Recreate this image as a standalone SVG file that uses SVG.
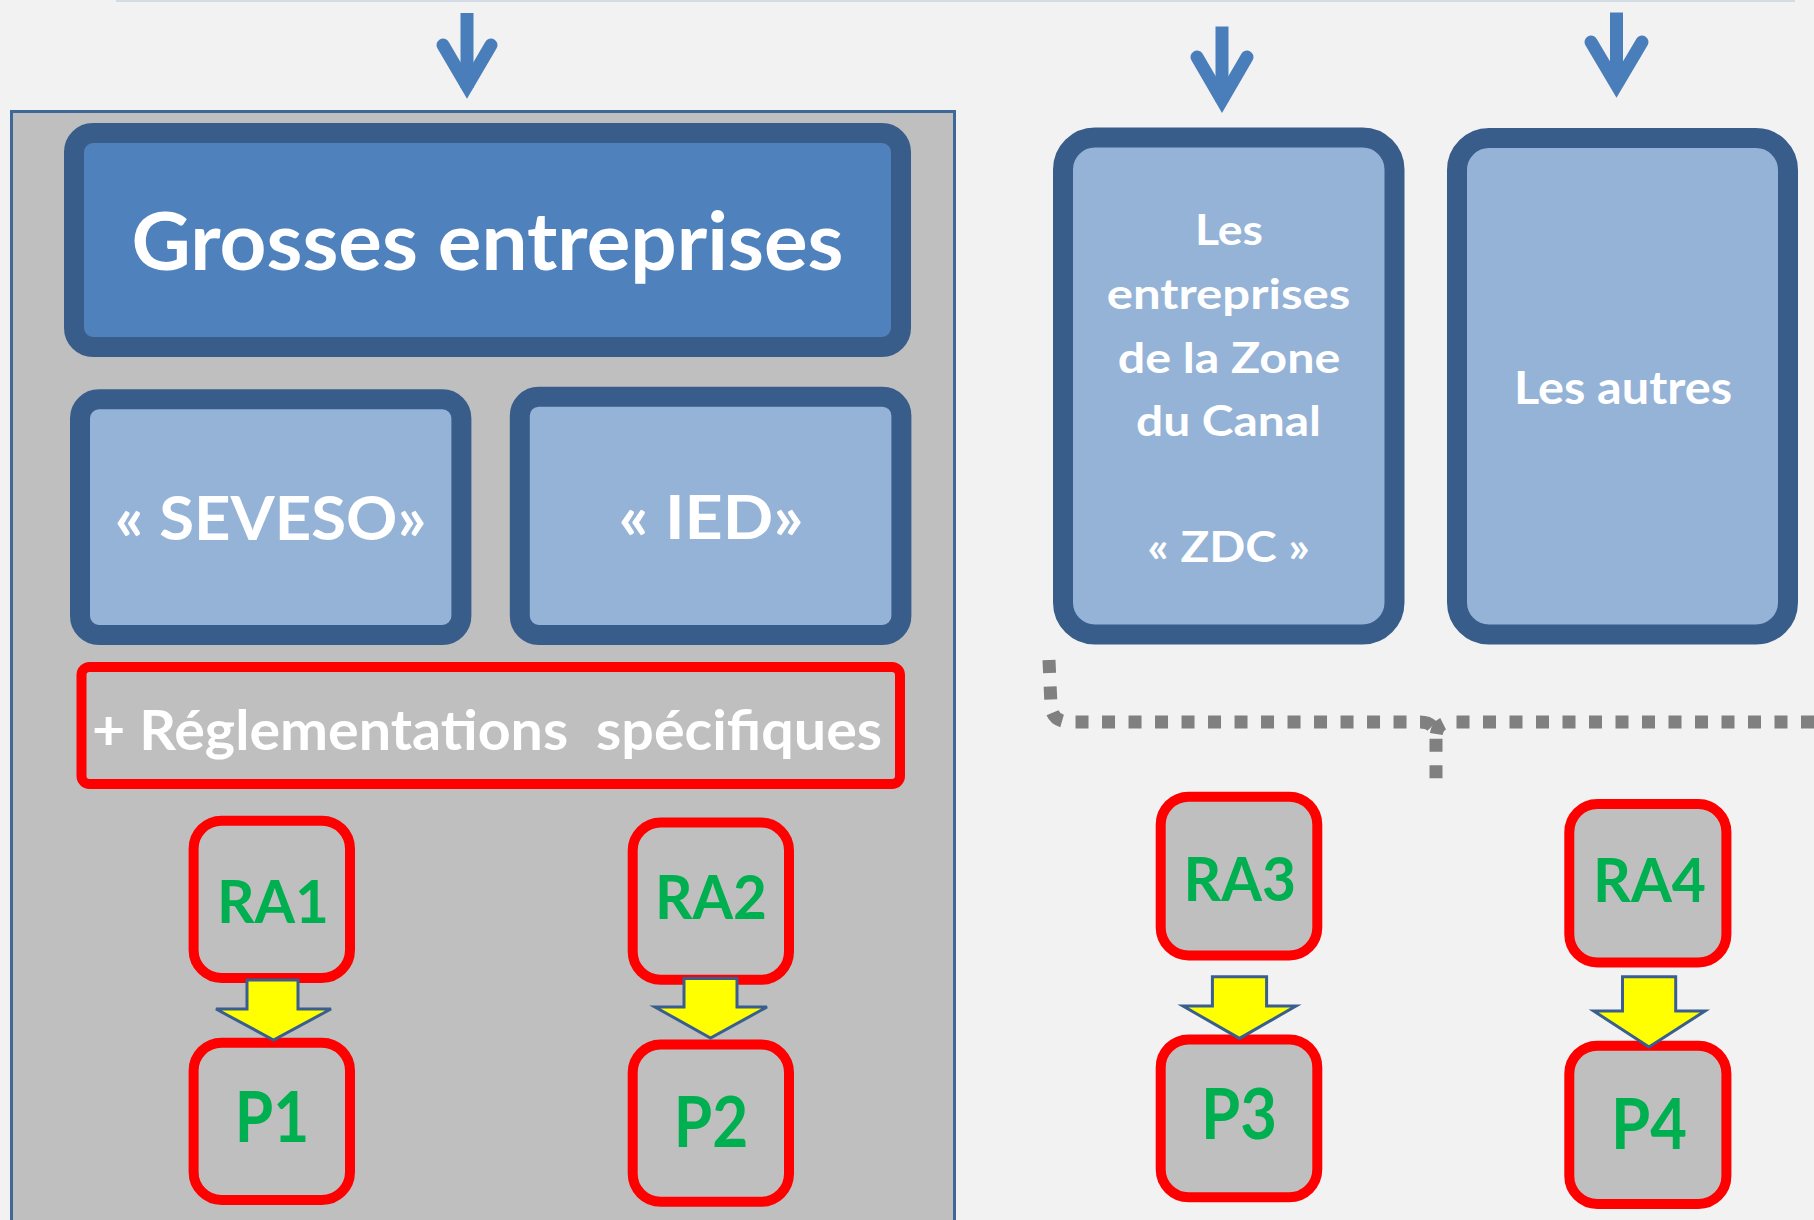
<svg xmlns="http://www.w3.org/2000/svg" width="1814" height="1220" viewBox="0 0 1814 1220">
<style>
.t{font-family:"Lato","Open Sans","Liberation Sans",sans-serif;font-weight:700;}
.w{fill:#ffffff;}
.g{fill:#00b050;}
.bb{stroke:#385d8a;stroke-width:20;}
.dk{fill:#4f81bd;}
.lt{fill:#95b3d7;}
.rb{fill:#bfbfbf;stroke:#ff0000;stroke-width:10;}
.ya{fill:#ffff00;stroke:#3a5f8f;stroke-width:3;stroke-linejoin:miter;}
.ba{fill:none;stroke:#4a7ebb;stroke-width:13;}
.dot{fill:none;stroke:#808080;stroke-width:13;stroke-dasharray:13 13.5;}
</style>
<rect x="0" y="0" width="1814" height="1220" fill="#f2f2f2"/>
<line x1="116" y1="1" x2="1795" y2="1" stroke="#d3dbe5" stroke-width="2"/>
<g id="panel">
<rect x="11.5" y="111.5" width="943" height="1120" fill="#bfbfbf" stroke="#3f6797" stroke-width="3"/>
</g>
<g id="grosses">
<rect class="bb dk" x="74" y="133" width="827" height="214" rx="19"/>
<text class="t w" x="487.5" y="270" font-size="80" text-anchor="middle" textLength="712" lengthAdjust="spacingAndGlyphs">Grosses entreprises</text>
</g>
<g id="seveso">
<rect class="bb lt" x="80" y="399.3" width="381.4" height="235.7" rx="19"/>
<text class="t w" x="270.6" y="540" font-size="61" text-anchor="middle" textLength="311.5" lengthAdjust="spacingAndGlyphs">« SEVESO»</text>
</g>
<g id="ied">
<rect class="bb lt" x="519.8" y="396.7" width="381.6" height="238.3" rx="19"/>
<text class="t w" x="711" y="539.3" font-size="61" text-anchor="middle" textLength="185" lengthAdjust="spacingAndGlyphs">« IED»</text>
</g>
<g id="reglementations">
<rect class="rb" x="81.5" y="667" width="818.5" height="117" rx="8"/>
<text class="t w" x="92" y="750" font-size="56" style="white-space:pre" textLength="790" lengthAdjust="spacingAndGlyphs">+ Réglementations  spécifiques</text>
</g>
<g id="zdc">
<rect class="bb lt" x="1063" y="137.5" width="331.5" height="497" rx="32" stroke-width="21"/>
<text class="t w" x="1229" y="245" font-size="42.5" text-anchor="middle" textLength="68" lengthAdjust="spacingAndGlyphs">Les</text>
<text class="t w" x="1228.5" y="309" font-size="42.5" text-anchor="middle" textLength="243.5" lengthAdjust="spacingAndGlyphs">entreprises</text>
<text class="t w" x="1229" y="372.5" font-size="42.5" text-anchor="middle" textLength="222.5" lengthAdjust="spacingAndGlyphs">de la Zone</text>
<text class="t w" x="1228.5" y="435.6" font-size="42.5" text-anchor="middle" textLength="185" lengthAdjust="spacingAndGlyphs">du Canal</text>
<text class="t w" x="1228.5" y="562" font-size="42.5" text-anchor="middle" textLength="162.5" lengthAdjust="spacingAndGlyphs">« ZDC »</text>
</g>
<g id="autres">
<rect class="bb lt" x="1457" y="138" width="331" height="496.5" rx="32" stroke-width="21"/>
<text class="t w" x="1623" y="404" font-size="46" text-anchor="middle" textLength="218" lengthAdjust="spacingAndGlyphs">Les autres</text>
</g>
<g id="ra1">
<rect class="rb" x="193.6" y="820.7" width="156.4" height="157.3" rx="28"/>
<text class="t g" x="273" y="923" font-size="60" text-anchor="middle" textLength="112" lengthAdjust="spacingAndGlyphs">RA1</text>
</g>
<g id="p1">
<rect class="rb" x="193.6" y="1042.7" width="156.4" height="157.3" rx="28"/>
<text class="t g" x="272" y="1142" font-size="70" text-anchor="middle" textLength="74.5" lengthAdjust="spacingAndGlyphs">P1</text>
</g>
<g id="ra2">
<rect class="rb" x="632.7" y="822.6" width="156.3" height="157.2" rx="28"/>
<text class="t g" x="711" y="919" font-size="61" text-anchor="middle" textLength="112" lengthAdjust="spacingAndGlyphs">RA2</text>
</g>
<g id="p2">
<rect class="rb" x="632.7" y="1044.6" width="156.3" height="157.2" rx="28"/>
<text class="t g" x="711" y="1147" font-size="70" text-anchor="middle" textLength="74.4" lengthAdjust="spacingAndGlyphs">P2</text>
</g>
<g id="ra3">
<rect class="rb" x="1160.7" y="796.7" width="156.6" height="158.7" rx="28"/>
<text class="t g" x="1239.7" y="900.8" font-size="62" text-anchor="middle" textLength="112.5" lengthAdjust="spacingAndGlyphs">RA3</text>
</g>
<g id="p3">
<rect class="rb" x="1160.7" y="1039.4" width="156.6" height="157.9" rx="28"/>
<text class="t g" x="1239" y="1139.4" font-size="70" text-anchor="middle" textLength="76" lengthAdjust="spacingAndGlyphs">P3</text>
</g>
<g id="ra4">
<rect class="rb" x="1569.3" y="804" width="157.1" height="158.4" rx="28"/>
<text class="t g" x="1649.5" y="901.6" font-size="62" text-anchor="middle" textLength="113" lengthAdjust="spacingAndGlyphs">RA4</text>
</g>
<g id="p4">
<rect class="rb" x="1569.3" y="1045.7" width="157.1" height="158.3" rx="28"/>
<text class="t g" x="1649" y="1148.7" font-size="70" text-anchor="middle" textLength="76" lengthAdjust="spacingAndGlyphs">P4</text>
</g>
<g id="connectors">
<line class="ba" x1="467" y1="13" x2="467" y2="88"/>
<path class="ba" d="M443,45 L467,86 L491,45" stroke-linecap="round" stroke-linejoin="miter"/>
<line class="ba" x1="1222" y1="26.5" x2="1222" y2="102"/>
<path class="ba" d="M1197,57 L1222,100 L1247,57" stroke-linecap="round" stroke-linejoin="miter"/>
<line class="ba" x1="1616.5" y1="12.6" x2="1616.5" y2="87"/>
<path class="ba" d="M1591,42 L1616.5,85 L1642,42" stroke-linecap="round" stroke-linejoin="miter"/>
<path class="dot" d="M1049,660 L1051,706 Q1052,722 1070,722 L1420,722 Q1436,722 1436,738 L1436,780"/>
<path class="dot" d="M1814,722 L1452,722 Q1436,722 1436,738"/>
<polygon class="ya" points="247,980 298,980 298,1009 331,1009 273.5,1040 216,1009 247,1009"/>
<polygon class="ya" points="684,978.5 737,978.5 737,1007 767,1007 710.5,1038 655,1007 684,1007"/>
<polygon class="ya" points="1212.4,976.7 1266.6,976.7 1266.6,1006 1296,1006 1239.5,1038.4 1183,1006 1212.4,1006"/>
<polygon class="ya" points="1622.5,976.7 1675.7,976.7 1675.7,1011 1705,1011 1649,1047 1593.7,1011 1622.5,1011"/>
</g>
</svg>
